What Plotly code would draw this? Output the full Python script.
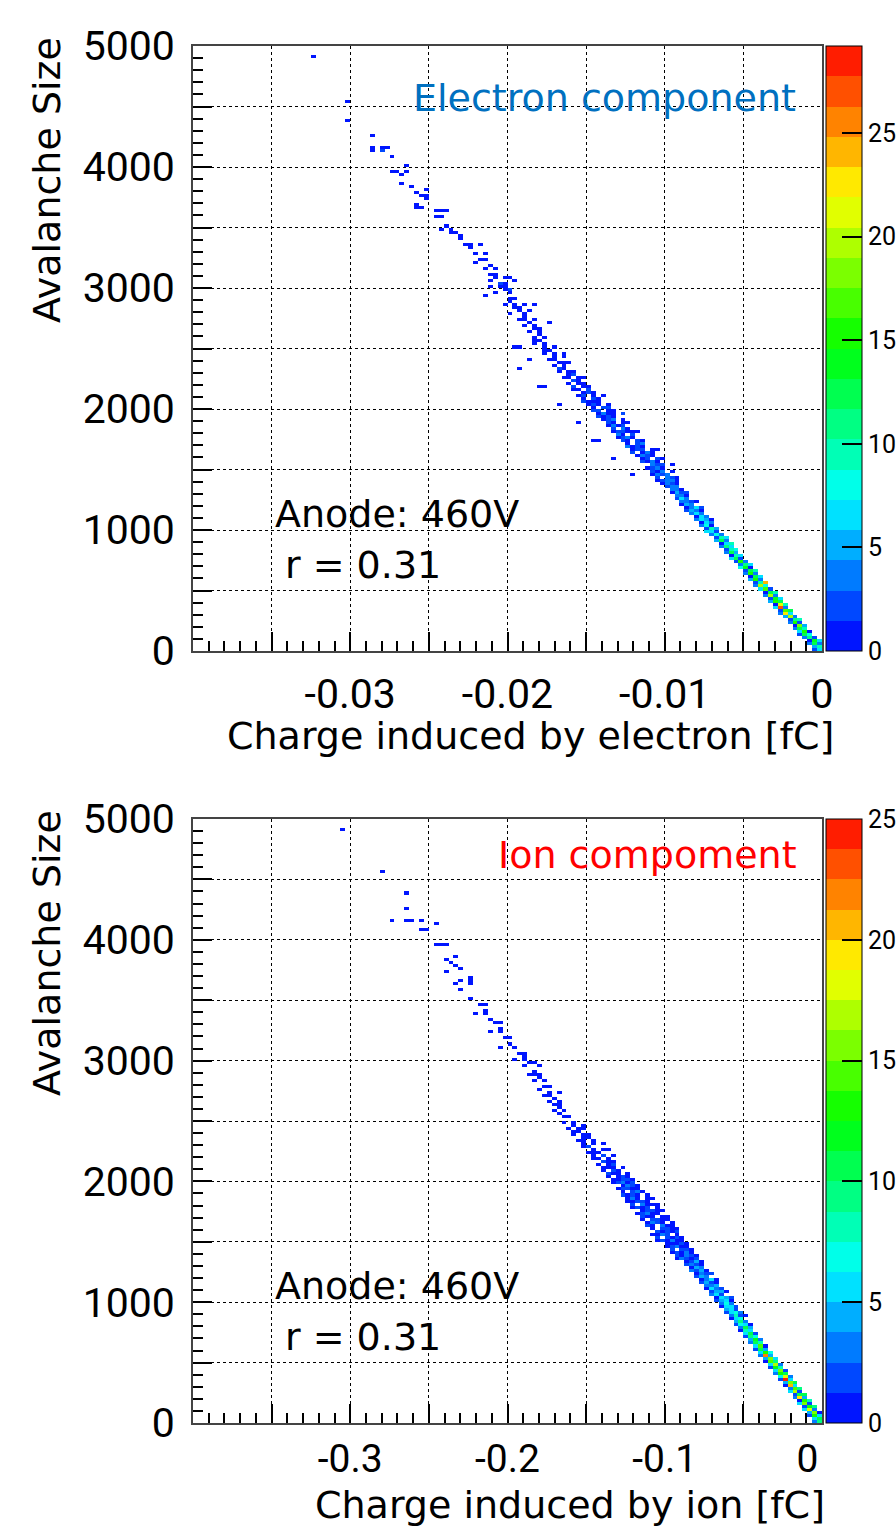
import colorsys
import plotly.graph_objects as go

# ---------------- data ----------------
# histogram binning
E_XMIN, E_XMAX = -0.04, 0.0      # electron charge axis [fC]
I_XMIN, I_XMAX = -0.4, 0.0       # ion charge axis [fC]
NX = 128
YMIN, YMAX, NY = 0.0, 5000.0, 200

# rows: (avalanche size of the row, charge of first filled cell [fC], counts in consecutive charge bins)
electron_rows = [
    (12.5, -0.0005, [2, 7]), (37.5, -0.0005, [5, 9]), (62.5, -0.0008, [3, 12, 4]),
    (87.5, -0.0008, [1, 14, 6]), (112.5, -0.0011, [4, 11, 2]), (137.5, -0.0014, [2, 13, 8]),
    (162.5, -0.0014, [6, 16, 1]), (187.5, -0.0017, [3, 12, 9]), (212.5, -0.0017, [1, 18, 5]),
    (237.5, -0.0020, [4, 15, 2]), (262.5, -0.0020, [2, 11, 10]), (287.5, -0.0023, [5, 19, 3]),
    (312.5, -0.0027, [3, 22, 6]), (337.5, -0.0027, [2, 17, 12]), (362.5, -0.0030, [6, 27, 4]),
    (387.5, -0.0030, [1, 21, 9]), (412.5, -0.0033, [5, 16, 12]), (437.5, -0.0033, [2, 14, 7]),
    (462.5, -0.0036, [4, 19, 3]), (487.5, -0.0036, [1, 13, 10]), (512.5, -0.0039, [6, 17, 2]),
    (537.5, -0.0042, [3, 20, 8]), (562.5, -0.0042, [2, 9, 24]), (587.5, -0.0045, [5, 15, 4]),
    (612.5, -0.0045, [1, 12, 7]), (637.5, -0.0048, [4, 16, 3]), (662.5, -0.0048, [2, 13, 9]),
    (687.5, -0.0052, [8, 14, 1]), (712.5, -0.0052, [3, 11, 6]), (737.5, -0.0055, [2, 15, 3]),
    (762.5, -0.0058, [6, 13, 2]), (787.5, -0.0058, [1, 10, 7]), (812.5, -0.0061, [4, 12, 5]),
    (837.5, -0.0061, [2, 9, 8]), (862.5, -0.0064, [3, 11, 6]), (887.5, -0.0064, [1, 7, 10]),
    (912.5, -0.0067, [5, 12, 3]), (937.5, -0.0067, [2, 9, 6]), (962.5, -0.0070, [3, 8, 4]),
    (987.5, -0.0073, [6, 7, 2]), (1012.5, -0.0073, [2, 9, 5]), (1037.5, -0.0077, [4, 8, 1]),
    (1062.5, -0.0077, [1, 7, 3]), (1087.5, -0.0080, [3, 6, 5, 1]), (1112.5, -0.0080, [1, 7, 3]),
    (1137.5, -0.0083, [3, 6, 4]), (1162.5, -0.0086, [2, 5, 3, 1]), (1187.5, -0.0086, [1, 4, 6, 2]),
    (1212.5, -0.0089, [1, 5, 4]), (1237.5, -0.0089, [3, 4, 2, 1]), (1262.5, -0.0092, [2, 6, 3]),
    (1287.5, -0.0092, [4, 3, 1]), (1312.5, -0.0095, [1, 5, 2, 2]), (1337.5, -0.0095, [3, 4, 1]),
    (1362.5, -0.0098, [2, 4, 3]), (1387.5, -0.0102, [1, 3, 2, 1]),
    (1412.5, -0.0105, [1, 2, 4, 3, 1]), (1437.5, -0.0105, [2, 0, 3, 2, 1]), (1462.5, -0.0108, [1, 3, 2, 4]),
    (1487.5, -0.0108, [2, 1, 3, 0, 1]), (1512.5, -0.0111, [1, 2, 3, 1]), (1537.5, -0.0111, [0, 3, 2, 2]),
    (1562.5, -0.0114, [2, 1, 3, 1]), (1587.5, -0.0114, [1, 2, 0, 2, 1]), (1612.5, -0.0117, [1, 3, 2, 1]),
    (1637.5, -0.0120, [2, 0, 1, 3, 1]), (1662.5, -0.0120, [1, 2, 2, 0, 1]), (1687.5, -0.0123, [3, 1, 2, 1]),
    (1712.5, -0.0123, [1, 0, 2, 3]), (1737.5, -0.0127, [2, 1, 0, 2, 1]), (1762.5, -0.0130, [1, 2, 3, 1]),
    (1787.5, -0.0130, [3, 1, 0, 2]), (1812.5, -0.0133, [1, 2, 2, 1, 1]), (1837.5, -0.0133, [2, 0, 3, 1]),
    (1862.5, -0.0136, [1, 3, 1, 2]), (1887.5, -0.0136, [2, 1, 0, 1, 1]), (1912.5, -0.0139, [1, 2, 3, 0, 1]),
    (1937.5, -0.0142, [2, 1, 2, 1]), (1962.5, -0.0142, [1, 3, 1, 1]), (1987.5, -0.0145, [2, 2, 0, 1, 1]),
    (2012.5, -0.0145, [1, 0, 2, 2]), (2037.5, -0.0148, [1, 2, 1, 0, 1]), (2062.5, -0.0152, [2, 1, 1, 1]),
    (2087.5, -0.0152, [1, 0, 2, 1]), (2112.5, -0.0155, [1, 2, 0, 1]), (2137.5, -0.0155, [0, 1, 2, 1]),
    (2162.5, -0.0158, [1, 1, 0, 2]), (2187.5, -0.0158, [2, 0, 1, 1]), (2212.5, -0.0161, [1, 0, 1, 1]),
    (2237.5, -0.0161, [0, 2, 1]), (2262.5, -0.0164, [1, 1, 0, 1]), (2287.5, -0.0164, [0, 1, 2]),
    (2312.5, -0.0167, [1, 0, 1, 1]), (2337.5, -0.0167, [2, 1]), (2362.5, -0.0170, [1, 0, 1]),
    (2387.5, -0.0170, [0, 1, 1, 1]), (2412.5, -0.0173, [1, 1]), (2437.5, -0.0173, [0, 1, 0, 1]),
    (2462.5, -0.0177, [1, 0, 1]), (2487.5, -0.0177, [1, 1]), (2512.5, -0.0180, [0, 1, 0, 1]),
    (2537.5, -0.0183, [1, 0, 1]), (2562.5, -0.0183, [1, 1]), (2587.5, -0.0186, [0, 1, 0, 1]),
    (2612.5, -0.0179, [1]), (2637.5, -0.0185, [1, 0, 1]), (2662.5, -0.0182, [1, 1]),
    (2687.5, -0.0188, [1, 0, 1]), (2712.5, -0.0185, [1]), (2737.5, -0.0191, [1, 1, 0, 1]),
    (2762.5, -0.0188, [1]), (2787.5, -0.0197, [1, 0, 0, 1]), (2812.5, -0.0191, [1, 0, 1]),
    (2837.5, -0.0194, [1, 1]), (2862.5, -0.0203, [1, 0, 1, 0, 1]), (2887.5, -0.0197, [1]),
    (2912.5, -0.0200, [1, 1]), (2962.5, -0.0209, [1, 0, 0, 1]), (2987.5, -0.0203, [1, 2]),
    (3012.5, -0.0212, [1, 0, 1, 1]), (3037.5, -0.0206, [2, 1]), (3062.5, -0.0212, [1]),
    (3087.5, -0.0209, [1, 0, 1, 1]), (3112.5, -0.0212, [1, 1]), (3162.5, -0.0215, [1, 0, 1]),
    (3187.5, -0.0212, [1]), (3212.5, -0.0221, [1]), (3237.5, -0.0218, [1, 1]),
    (3287.5, -0.0221, [1, 0, 1]), (3337.5, -0.0224, [1]), (3362.5, -0.0227, [1, 1, 0, 1]),
    (3412.5, -0.0230, [1]), (3437.5, -0.0233, [0, 1]), (3462.5, -0.0236, [1, 1]),
    (3487.5, -0.0242, [1, 0, 1]), (3512.5, -0.0239, [1]), (3587.5, -0.0245, [1, 1]),
    (3637.5, -0.0245, [1, 1, 1]), (3662.5, -0.0258, [1, 1]), (3687.5, -0.0258, [1]),
    (3737.5, -0.0252, [1]), (3762.5, -0.0255, [1, 1]), (3787.5, -0.0258, [1]),
    (3812.5, -0.0252, [1]), (3837.5, -0.0262, [1]), (3862.5, -0.0266, [1]),
    (3937.5, -0.0266, [1]), (3962.5, -0.0272, [1, 1, 0, 1]), (4012.5, -0.0263, [1]),
    (4087.5, -0.0272, [1]), (4137.5, -0.0285, [1, 0, 2]), (4162.5, -0.0285, [1, 0, 1, 1]),
    (4262.5, -0.0285, [1]), (4387.5, -0.0302, [1]), (4537.5, -0.0302, [1]),
    (4912.5, -0.0322, [1]),
    # scattered cells off the main band
    (1462.5, -0.0120, [1]), (1537.5, -0.0095, [1]), (1587.5, -0.0133, [1]),
    (1662.5, -0.0105, [1]), (1737.5, -0.0145, [1, 1]), (1812.5, -0.0117, [1]),
    (1887.5, -0.0155, [1]), (1962.5, -0.0127, [2]), (2037.5, -0.0167, [1]),
    (2112.5, -0.0139, [1]), (2187.5, -0.0180, [1, 1]), (2262.5, -0.0152, [1]),
    (2337.5, -0.0192, [1]), (2412.5, -0.0186, [1]), (2462.5, -0.0164, [1]),
    (2512.5, -0.0195, [1, 1]), (2712.5, -0.0173, [1]), (2862.5, -0.0182, [1]),
    (2937.5, -0.0215, [1]), (3062.5, -0.0195, [1]),
]

ion_rows = [
    (12.5, -0.005, [3, 9]), (37.5, -0.005, [6, 11]), (62.5, -0.008, [2, 13, 5]),
    (87.5, -0.008, [4, 16, 1]), (112.5, -0.011, [5, 18, 3]), (137.5, -0.011, [2, 12, 9]),
    (162.5, -0.014, [6, 15, 2]), (187.5, -0.014, [1, 13, 8]), (212.5, -0.017, [3, 19, 4]),
    (237.5, -0.017, [2, 11, 10]), (262.5, -0.020, [5, 17, 2]), (287.5, -0.020, [3, 14, 9]),
    (312.5, -0.023, [1, 20, 6]), (337.5, -0.023, [4, 15, 11]), (362.5, -0.027, [2, 24, 5]),
    (387.5, -0.027, [7, 18, 3]), (412.5, -0.030, [3, 13, 10]), (437.5, -0.030, [5, 16, 2]),
    (462.5, -0.033, [2, 12, 8]), (487.5, -0.033, [6, 17, 3]), (512.5, -0.036, [1, 14, 9]),
    (537.5, -0.036, [4, 15, 5]), (562.5, -0.039, [3, 22, 4]), (587.5, -0.039, [5, 13, 7]),
    (612.5, -0.042, [2, 11, 4]), (637.5, -0.042, [6, 14, 1]), (662.5, -0.045, [3, 10, 8]),
    (687.5, -0.045, [4, 12, 3]), (712.5, -0.048, [2, 9, 7]), (737.5, -0.048, [5, 11, 2]),
    (762.5, -0.052, [1, 8, 6]), (787.5, -0.052, [3, 10, 4]), (812.5, -0.055, [2, 7, 6, 1]),
    (837.5, -0.055, [4, 9, 3]), (862.5, -0.058, [1, 6, 7]), (887.5, -0.058, [3, 8, 2, 1]),
    (912.5, -0.061, [2, 5, 7, 3]), (937.5, -0.061, [4, 6, 2]), (962.5, -0.064, [1, 5, 6, 2]),
    (987.5, -0.064, [3, 7, 3]), (1012.5, -0.067, [2, 4, 5, 1]), (1037.5, -0.067, [1, 6, 4, 2]),
    (1062.5, -0.070, [3, 5, 2]), (1087.5, -0.070, [2, 4, 4, 1]), (1112.5, -0.073, [1, 5, 3, 2]),
    (1137.5, -0.073, [3, 3, 4]), (1162.5, -0.077, [2, 4, 2, 1]), (1187.5, -0.077, [1, 3, 5, 1]),
    (1212.5, -0.080, [2, 4, 3]), (1237.5, -0.080, [1, 3, 2, 2]), (1262.5, -0.083, [3, 2, 4, 1]),
    (1287.5, -0.083, [1, 4, 3]), (1312.5, -0.086, [2, 3, 2, 1]), (1337.5, -0.086, [1, 2, 4, 1]),
    (1362.5, -0.092, [1, 3, 2, 1, 2]), (1387.5, -0.092, [2, 1, 3, 2, 1]), (1412.5, -0.095, [1, 2, 1, 3, 1]),
    (1437.5, -0.095, [2, 0, 2, 2, 1]), (1462.5, -0.098, [1, 2, 3, 1, 1]), (1487.5, -0.098, [1, 1, 1, 2, 1]),
    (1512.5, -0.105, [1, 2, 1, 3, 1, 1]), (1537.5, -0.105, [2, 0, 2, 1, 2, 1]),
    (1562.5, -0.108, [1, 1, 3, 2, 0, 1]), (1587.5, -0.108, [0, 2, 1, 2, 1, 2]),
    (1612.5, -0.108, [1, 0, 2, 2, 1, 1]), (1637.5, -0.111, [2, 1, 0, 3, 1, 1]),
    (1662.5, -0.111, [1, 3, 2, 1, 0, 1]), (1687.5, -0.114, [1, 0, 2, 2, 1, 1]),
    (1712.5, -0.114, [2, 1, 1, 0, 1, 1]), (1737.5, -0.117, [1, 2, 3, 1, 1]),
    (1762.5, -0.117, [0, 1, 2, 2, 1, 1]), (1787.5, -0.120, [1, 2, 1, 2, 0, 1]),
    (1812.5, -0.120, [2, 0, 3, 1, 1, 1]), (1837.5, -0.123, [1, 1, 2, 2, 1]),
    (1862.5, -0.123, [1, 3, 1, 0, 1, 1]), (1887.5, -0.127, [2, 1, 2, 1, 0, 1]),
    (1912.5, -0.127, [1, 0, 2, 3, 1]), (1937.5, -0.130, [1, 2, 2, 1, 1]),
    (1962.5, -0.130, [0, 1, 3, 2, 1]), (1987.5, -0.133, [1, 2, 3, 1, 2]),
    (2012.5, -0.133, [1, 1, 2, 2, 1]), (2037.5, -0.136, [1, 0, 1, 2, 1]),
    (2062.5, -0.136, [2, 1, 1, 0, 1]), (2087.5, -0.139, [1, 0, 2, 1]),
    (2112.5, -0.139, [1, 1, 1, 0, 1]), (2137.5, -0.142, [1, 0, 1, 2]),
    (2162.5, -0.142, [0, 2, 1, 1]), (2187.5, -0.145, [1, 1, 0, 1]),
    (2212.5, -0.145, [1, 0, 2, 0, 1]), (2237.5, -0.148, [1, 1, 1]),
    (2262.5, -0.148, [0, 1, 0, 1, 1]), (2287.5, -0.152, [1, 2]),
    (2312.5, -0.152, [1, 0, 1, 0, 1]), (2337.5, -0.155, [1, 1, 0, 1]),
    (2362.5, -0.155, [0, 1, 1]), (2387.5, -0.158, [1, 0, 1, 1]),
    (2412.5, -0.158, [1, 1]), (2437.5, -0.161, [1, 0, 1, 1]),
    (2462.5, -0.161, [0, 1, 0, 1]), (2487.5, -0.164, [1, 0, 1]),
    (2537.5, -0.164, [1, 1]), (2562.5, -0.167, [1]), (2587.5, -0.170, [1, 0, 1]),
    (2612.5, -0.167, [1]), (2637.5, -0.170, [1, 1]), (2662.5, -0.173, [1, 0, 1]),
    (2687.5, -0.170, [1]), (2712.5, -0.177, [1, 1]), (2737.5, -0.173, [1, 0, 1]),
    (2762.5, -0.180, [1]), (2787.5, -0.177, [1, 1]), (2837.5, -0.183, [1, 0, 1]),
    (2862.5, -0.180, [1]), (2887.5, -0.186, [1, 1, 1]), (2912.5, -0.183, [1]),
    (2962.5, -0.190, [1, 0, 0, 1]), (2987.5, -0.186, [1, 1]), (3012.5, -0.196, [1, 0, 1]),
    (3037.5, -0.190, [1]), (3062.5, -0.193, [1, 1]),
    (3112.5, -0.205, [1, 0, 0, 1]), (3137.5, -0.199, [1]), (3187.5, -0.202, [1, 1]),
    (3237.5, -0.211, [1, 0, 1]), (3262.5, -0.205, [1]), (3312.5, -0.208, [1, 1]),
    (3337.5, -0.211, [1]), (3387.5, -0.221, [1, 0, 1]), (3412.5, -0.214, [1]),
    (3462.5, -0.218, [1, 1]), (3512.5, -0.2227, [1]), (3587.5, -0.2298, [1]),
    (3637.5, -0.2330, [1, 0, 0, 1]), (3662.5, -0.2298, [1, 0, 1]), (3687.5, -0.2227, [1]),
    (3737.5, -0.2387, [1]), (3762.5, -0.2298, [1]), (3787.5, -0.2330, [1]),
    (3812.5, -0.2355, [1]), (3837.5, -0.2387, [1]), (3862.5, -0.2330, [1]),
    (3962.5, -0.2451, [1, 1, 1]), (4087.5, -0.2553, [1, 1]), (4137.5, -0.2451, [1]),
    (4162.5, -0.2720, [1, 0, 0, 1, 1, 0, 1]), (4262.5, -0.2648, [1]), (4387.5, -0.2648, [1]),
    (4562.5, -0.2786, [1]), (4912.5, -0.3059, [1]),
]

ELEC_ZMAX = 29.2
ION_ZMAX = 25.0

ELEC_X_TICKS = [-0.04, -0.035, -0.03, -0.025, -0.02, -0.015, -0.01, -0.005, 0.0]
ELEC_X_LABELS = ["", "", "-0.03", "", "-0.02", "", "-0.01", "", "0"]
ION_X_TICKS = [-0.4, -0.35, -0.3, -0.25, -0.2, -0.15, -0.1, -0.05, 0.0]
ION_X_LABELS = ["", "", "-0.3", "", "-0.2", "", "-0.1", "", "0\u00a0\u00a0\u00a0"]
Y_TICKS = [0, 500, 1000, 1500, 2000, 2500, 3000, 3500, 4000, 4500, 5000]
Y_LABELS = ["0", "", "1000", "", "2000", "", "3000", "", "4000", "", "5000"]
CB_TICKS = [0, 5, 10, 15, 20, 25]

# ---------------- helpers ----------------
W, H = 896, 1528


def px(x):
    return x / W


def py(y):
    return 1 - y / H


def build(rows, xmin, xmax):
    dx = (xmax - xmin) / NX
    dy = (YMAX - YMIN) / NY
    z = [[None] * NX for _ in range(NY)]
    for n, q, counts in rows:
        j = int((n - YMIN) // dy)
        i0 = int((q - xmin) // dx)
        for k, c in enumerate(counts):
            i = i0 + k
            if c > 0 and 0 <= i < NX and 0 <= j < NY:
                z[j][i] = c
    xs = [xmin + (i + 0.5) * dx for i in range(NX)]
    ys = [YMIN + (j + 0.5) * dy for j in range(NY)]
    return xs, ys, z


# ROOT-like 20 level rainbow palette
band_colors = []
for k in range(20):
    h = (235 - 12 * k) / 360.0
    r, g, b = colorsys.hls_to_rgb(h, 0.5, 1.0)
    band_colors.append(f"rgb({int(r*255)},{int(g*255)},{int(b*255)})")
colorscale = []
for k, c in enumerate(band_colors):
    colorscale.append([k / 20, c])
    colorscale.append([(k + 1) / 20, c])

TICK_FONT = dict(family="Roboto", size=41, color="black")
TEXT_FONT = "DejaVu Sans"

fig = go.Figure()

panels = [
    (electron_rows, E_XMIN, E_XMAX, ELEC_ZMAX, "x", "y", 46, 651),
    (ion_rows, I_XMIN, I_XMAX, ION_ZMAX, "x2", "y2", 819, 1423),
]
for rows, xmin, xmax, zmax, xa, ya, top, bot in panels:
    xs, ys, z = build(rows, xmin, xmax)
    fig.add_trace(go.Heatmap(
        x=xs, y=ys, z=z, zmin=0, zmax=zmax, colorscale=colorscale,
        xaxis=xa, yaxis=ya, hoverongaps=False,
        colorbar=dict(
            x=px(826), xanchor="left", y=py((top + bot) / 2), yanchor="middle",
            thickness=36, thicknessmode="pixels", len=bot - top, lenmode="pixels",
            outlinewidth=1, outlinecolor="black", xpad=0, ypad=0,
            tickmode="array", tickvals=CB_TICKS, ticks="inside", ticklen=20,
            tickcolor="black", tickwidth=1.5,
            tickfont=dict(family="Roboto", size=25, color="black"),
        ),
    ))


def xaxis_cfg(ticks, labels, rng, minor_dtick, anchor, standoff, fsize):
    return dict(
        domain=[px(193), px(822)], range=rng, anchor=anchor,
        tickmode="array", tickvals=ticks, ticktext=labels,
        ticks="inside", ticklen=19, tickwidth=1.5, tickcolor="black",
        tickfont=dict(family="Roboto", size=fsize, color="black"),
        ticklabelstandoff=standoff, automargin=False,
        showgrid=True, gridcolor="black", griddash="dot", gridwidth=1,
        showline=True, mirror=True, linecolor="#444", linewidth=2,
        zeroline=False,
        minor=dict(tickmode="linear", tick0=0, dtick=minor_dtick, ticks="inside",
                   ticklen=10, tickwidth=1.5, tickcolor="black", showgrid=False),
    )


def yaxis_cfg(top, bot, anchor):
    return dict(
        domain=[py(bot), py(top)], range=[YMIN, YMAX], anchor=anchor,
        tickmode="array", tickvals=Y_TICKS, ticktext=Y_LABELS,
        ticks="inside", ticklen=19, tickwidth=1.5, tickcolor="black",
        tickfont=TICK_FONT, ticklabelstandoff=8, automargin=False,
        showgrid=True, gridcolor="black", griddash="dot", gridwidth=1,
        showline=True, mirror=True, linecolor="#444", linewidth=2,
        zeroline=False,
        minor=dict(tickmode="linear", tick0=0, dtick=100, ticks="inside",
                   ticklen=10, tickwidth=1.5, tickcolor="black", showgrid=False),
    )


annotations = [
    dict(text="Avalanche Size", x=px(47), y=py(180), textangle=-90,
         font=dict(family=TEXT_FONT, size=38, color="black")),
    dict(text="Avalanche Size", x=px(47), y=py(953), textangle=-90,
         font=dict(family=TEXT_FONT, size=38, color="black")),
    dict(text="Charge induced by electron [fC]", x=px(530), y=py(736),
         font=dict(family=TEXT_FONT, size=38, color="black")),
    dict(text="Charge induced by ion [fC]", x=px(570), y=py(1505),
         font=dict(family=TEXT_FONT, size=38, color="black")),
    dict(text="Electron component", x=px(798), y=py(98), xanchor="right",
         font=dict(family=TEXT_FONT, size=38, color="rgb(0,112,192)")),
    dict(text="Ion compoment", x=px(799), y=py(855), xanchor="right",
         font=dict(family=TEXT_FONT, size=38, color="rgb(255,0,0)")),
    dict(text="Anode: 460V", x=px(273), y=py(514), xanchor="left",
         font=dict(family=TEXT_FONT, size=38, color="black")),
    dict(text="r = 0.31", x=px(283), y=py(565), xanchor="left",
         font=dict(family=TEXT_FONT, size=38, color="black")),
    dict(text="Anode: 460V", x=px(273), y=py(1286), xanchor="left",
         font=dict(family=TEXT_FONT, size=38, color="black")),
    dict(text="r = 0.31", x=px(283), y=py(1337), xanchor="left",
         font=dict(family=TEXT_FONT, size=38, color="black")),
]
for a in annotations:
    a.update(xref="paper", yref="paper", showarrow=False)
    a.setdefault("xanchor", "center")
    a.setdefault("yanchor", "middle")

fig.update_layout(
    width=W, height=H, margin=dict(l=0, r=0, t=0, b=0, autoexpand=False),
    paper_bgcolor="white", plot_bgcolor="white", showlegend=False,
    xaxis=xaxis_cfg(ELEC_X_TICKS, ELEC_X_LABELS, [E_XMIN, E_XMAX], 0.001, "y", 6, 41),
    yaxis=yaxis_cfg(46, 651, "x"),
    xaxis2=xaxis_cfg(ION_X_TICKS, ION_X_LABELS, [I_XMIN, I_XMAX], 0.01, "y2", 0, 39),
    yaxis2=yaxis_cfg(819, 1423, "x2"),
    annotations=annotations,
)

fig.write_html("out.html")
